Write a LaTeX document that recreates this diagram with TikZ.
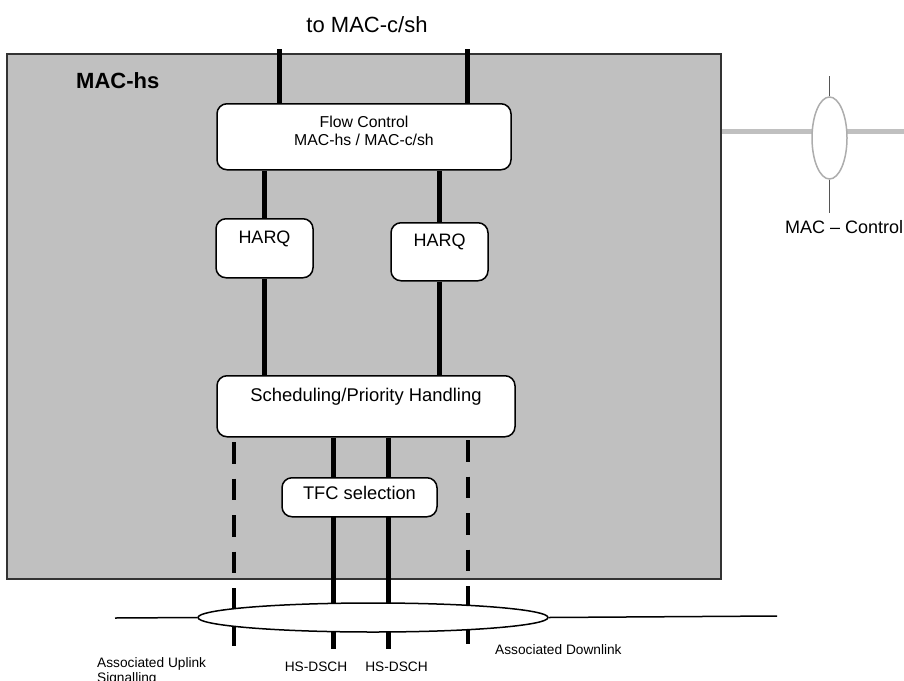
\documentclass[tikz,border=0pt]{standalone}
\usepackage{fontspec}
\setmainfont{Liberation Sans}
\usetikzlibrary{shapes.geometric}
\definecolor{panelgray}{HTML}{C0C0C0}
\definecolor{linkgray}{HTML}{555555}
\tikzset{
	block/.style={draw=black, line width=1.5pt, fill=white, rounded corners=10pt, inner sep=0pt, align=center},
	chan/.style={line width=5pt},
	sigchan/.style={line width=4.5pt, dash pattern=on 21.5pt off 15pt},
	lbl/.style={inner sep=0pt, font=\fontsize{13.7}{15}\selectfont},
}

\begin{document}
\begin{tikzpicture}[x=1pt, y=-1pt]
	\useasboundingbox (0,0) rectangle (904,680);
	\node[draw=black!80, line width=1.5pt, fill=panelgray, minimum width=714pt, minimum height=525pt] (machs) at (364,316.5) {};
	\node[anchor=base west, inner sep=0pt, font=\fontsize{22}{26}\selectfont\bfseries] (machsname) at (76,88) {MAC-hs};
	\node[anchor=base, inner sep=0pt, font=\fontsize{22}{26}\selectfont] (tomac) at (367,32) {to MAC-c/sh};

	\coordinate (ina) at (279,49);
	\coordinate (inb) at (467,49);
	\node[block, anchor=north, minimum width=294pt, text height=42pt, text depth=24pt, font=\fontsize{15.8}{18}\selectfont] (flow) at (364,103) {Flow Control\\MAC-hs / MAC-c/sh};
	\draw[chan] (ina) -- (ina |- flow.north);
	\draw[chan] (inb) -- (inb |- flow.north);

	\node[block, anchor=north, minimum width=97pt, text height=25pt, text depth=34pt, font=\fontsize{18}{21}\selectfont] (harqa) at (264.5,218) {HARQ};
	\node[block, anchor=north, minimum width=97pt, text height=24pt, text depth=34pt, font=\fontsize{18}{21}\selectfont] (harqb) at (439.5,222) {HARQ};
	\draw[chan] (flow.south -| harqa.north) -- (harqa.north);
	\draw[chan] (flow.south -| harqb.north) -- (harqb.north);

	\node[block, anchor=north, minimum width=298pt, text height=26pt, text depth=35pt, font=\fontsize{18.4}{21}\selectfont] (sched) at (366,375) {Scheduling/Priority Handling};
	\draw[chan] (harqa.south) -- (harqa.south |- sched.north);
	\draw[chan] (harqb.south) -- (harqb.south |- sched.north);

	\coordinate (hsa) at (333,649);
	\coordinate (hsb) at (388,649);
	\coordinate (ula) at (234,442);
	\coordinate (ulb) at (234,647);
	\coordinate (dla) at (468,440);
	\coordinate (dlb) at (468,645);
	\draw[chan] (sched.south -| hsa) -- (hsa);
	\draw[chan] (sched.south -| hsb) -- (hsb);
	\draw[sigchan] (ula) -- (ulb);
	\draw[sigchan] (dla) -- (dlb);

	\node[block, anchor=north, minimum width=155pt, text height=22pt, text depth=17pt, font=\fontsize{18.3}{21}\selectfont] (tfc) at (359.5,477) {TFC selection};

	\coordinate (busw) at (115,618);
	\coordinate (buse) at (777,616);
	\node[ellipse, draw=black, line width=1.5pt, fill=white, minimum width=350pt, minimum height=29pt, inner sep=0pt] (assoc) at (373,617.5) {};
	\draw[line width=1.5pt] (busw) -- (assoc.west);
	\draw[line width=1.5pt] (assoc.east) -- (buse);

	\coordinate (ctrlend) at (904,131.5);
	\coordinate (ctrltop) at (829.5,76);
	\coordinate (ctrlbot) at (829.5,213);
	\draw[panelgray, line width=5pt] (machs.east |- ctrlend) -- (ctrlend);
	\node[ellipse, draw=panelgray!90!black, line width=1.5pt, fill=white, minimum width=35pt, minimum height=82pt, inner sep=0pt] (ctrl) at (829.5,138) {};
	\draw[linkgray, line width=1pt] (ctrltop) -- (ctrl.north);
	\draw[linkgray, line width=1pt] (ctrl.south) -- (ctrlbot);
	\node[anchor=base west, inner sep=0pt, font=\fontsize{18}{21}\selectfont] (ctrlname) at (785,233) {MAC -- Control};

	\node[lbl, anchor=base west, align=left] (ulname) at (97,682) {Associated Uplink\\Signalling};
	\node[lbl, anchor=base] (hsnamea) at (316,671) {HS-DSCH};
	\node[lbl, anchor=base] (hsnameb) at (396.5,671) {HS-DSCH};
	\node[lbl, anchor=base west] (dlname) at (495,654) {Associated Downlink};
\end{tikzpicture}
\end{document}
